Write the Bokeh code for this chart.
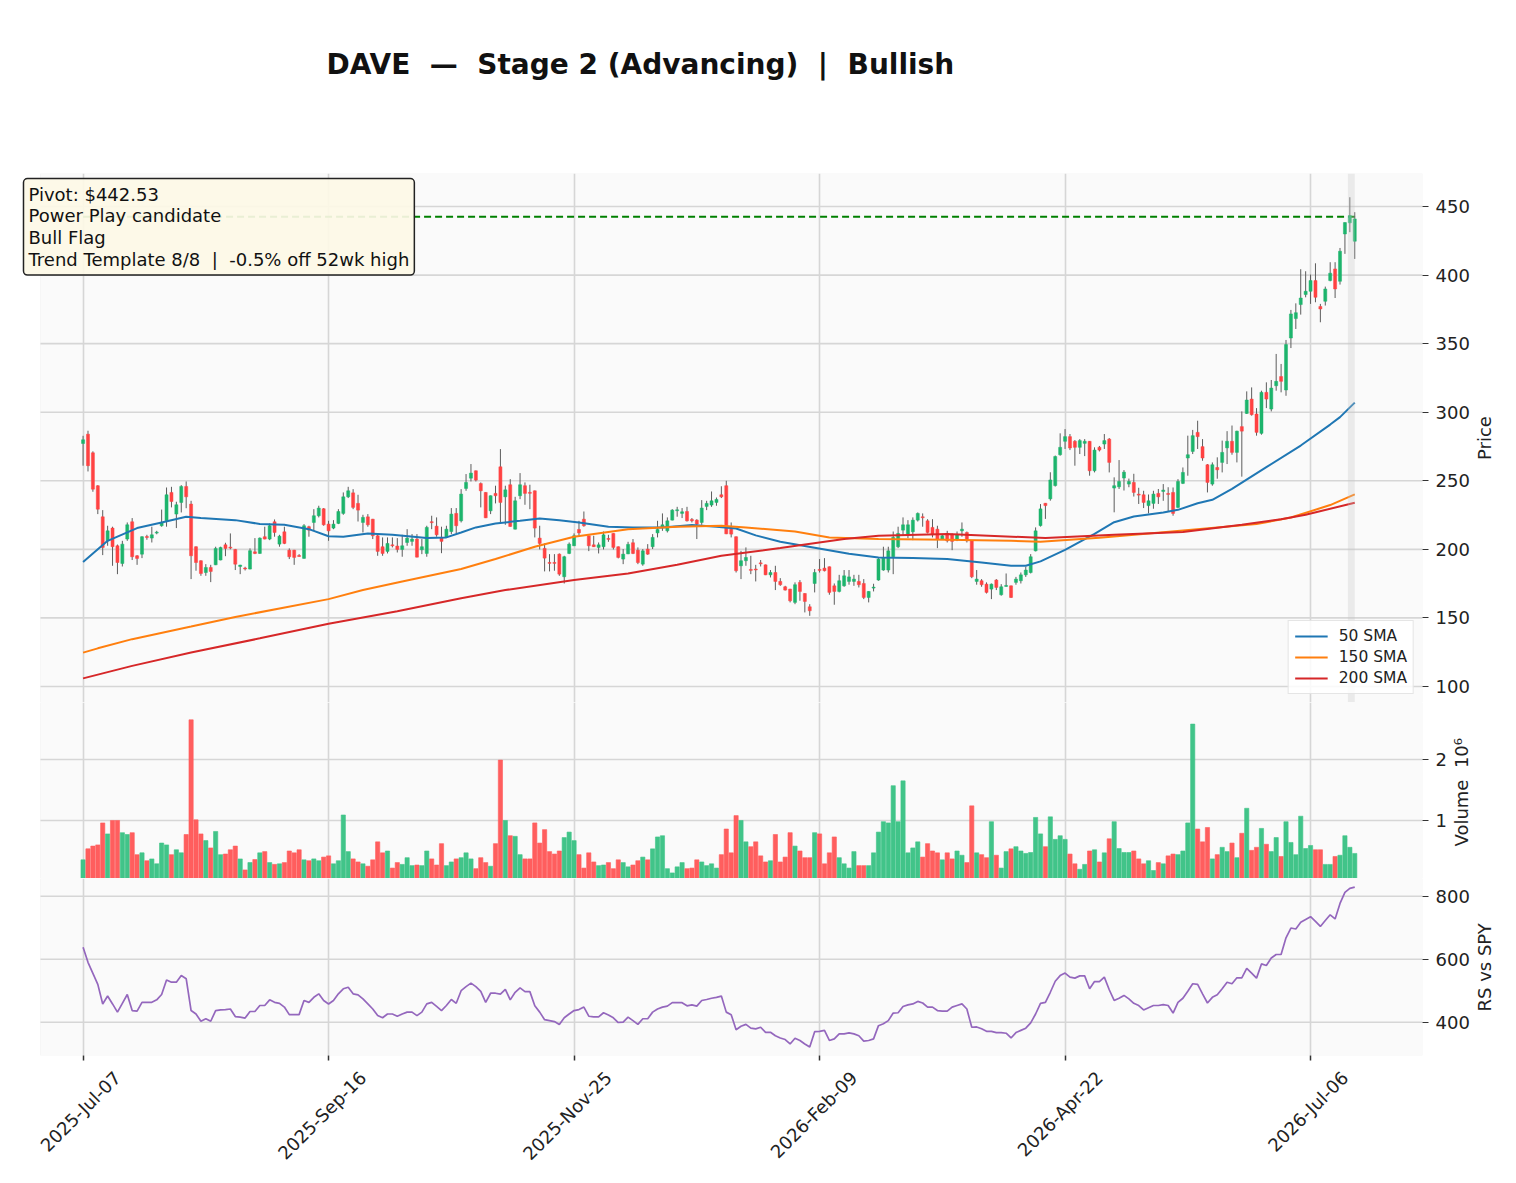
from math import pi
from bokeh.plotting import figure
from bokeh.models import (ColumnDataSource, FixedTicker, Range1d, Label, Legend, LegendItem,
                          LinearAxis, BoxAnnotation, Title)
from bokeh.layouts import column
from bokeh.embed import file_html
from bokeh.resources import INLINE

# ---------------- data ----------------
TICKER = "DAVE"
STAGE = "Stage 2 (Advancing)"
BIAS = "Bullish"
PIVOT = 442.53
NOTES = ["Power Play candidate", "Bull Flag", "Trend Template 8/8  |  -0.5% off 52wk high"]

date_ticks = [0, 50, 100, 150, 200, 250]
date_labels = ["2025-Jul-07", "2025-Sep-16", "2025-Nov-25", "2026-Feb-09", "2026-Apr-22", "2026-Jul-06"]
price_ticks = [100, 150, 200, 250, 300, 350, 400, 450]
volume_ticks = [1, 2]
rs_ticks = [400, 600, 800]

open_ = [277.2, 284.0, 270.4, 246.4, 223.7, 206.2, 215.5, 202.6, 189.7, 207.5,
         220.1, 195.3, 196.5, 209.2, 208.2, 212.0, 217.2, 220.8, 241.5, 225.7,
         234.2, 245.9, 233.0, 201.9, 191.7, 183.1, 186.8, 188.7, 192.2, 203.3,
         201.4, 199.9, 187.5, 186.2, 185.6, 198.2, 197.0, 209.2, 207.5, 220.1,
         203.8, 212.8, 199.4, 199.4, 195.3, 193.4, 216.5, 219.6, 224.5, 229.6,
         218.4, 215.5, 218.9, 226.2, 238.3, 241.2, 233.5, 219.6, 223.7, 222.0,
         209.9, 201.9, 198.5, 203.3, 202.4, 199.9, 205.0, 205.8, 207.5, 199.7,
         197.0, 220.0, 216.9, 208.7, 208.7, 213.0, 226.2, 220.8, 244.4, 251.9,
         257.3, 248.0, 241.5, 228.1, 240.8, 260.2, 238.3, 247.1, 214.7, 239.1,
         246.4, 241.4, 242.7, 208.2, 200.7, 190.2, 190.2, 196.5, 180.0, 197.0,
         202.6, 214.5, 222.0, 209.9, 203.3, 201.4, 201.9, 207.7, 211.6, 201.9,
         192.9, 196.7, 204.8, 199.4, 189.2, 200.2, 201.9, 212.0, 216.0, 213.5,
         221.3, 228.4, 226.2, 227.6, 221.8, 221.3, 219.6, 231.3, 232.3, 234.2,
         239.8, 246.4, 214.7, 209.2, 188.0, 191.7, 185.1, 185.6, 189.9, 188.7,
         181.4, 183.1, 176.6, 172.7, 171.0, 161.3, 175.9, 167.8, 158.1, 175.1,
         185.1, 186.3, 187.3, 173.4, 169.3, 173.4, 176.6, 176.6, 176.6, 175.1,
         164.9, 172.0, 177.6, 184.9, 184.9, 194.6, 201.9, 214.0, 210.6, 212.8,
         221.3, 223.5, 220.8, 216.0, 214.7, 207.5, 211.6, 210.6, 207.5, 213.5,
         212.3, 206.2, 176.6, 177.1, 174.6, 171.0, 177.6, 166.9, 173.2, 173.4,
         175.9, 177.1, 181.4, 183.1, 198.9, 217.3, 233.6, 236.8, 246.5, 269.0,
         278.8, 282.2, 278.8, 274.4, 277.3, 278.8, 257.3, 274.4, 276.8, 280.4,
         244.7, 245.6, 252.0, 247.6, 248.8, 240.0, 239.8, 231.9, 233.5, 240.8,
         242.2, 240.5, 241.5, 230.6, 248.1, 266.6, 271.4, 285.3, 274.9, 261.7,
         247.6, 259.7, 263.4, 274.0, 278.8, 270.7, 289.5, 299.1, 309.6, 298.7,
         284.6, 314.5, 302.3, 319.3, 326.0, 316.2, 354.1, 368.3, 378.5, 385.8,
         388.2, 396.0, 377.1, 380.9, 396.0, 404.5, 395.5, 430.0, 438.1, 424.7]

high = [282.8, 286.5, 271.5, 246.8, 228.6, 217.2, 216.5, 203.5, 206.2, 219.6,
        222.8, 195.8, 209.6, 210.6, 216.5, 213.5, 229.0, 245.1, 245.6, 234.7,
        246.8, 249.5, 235.4, 202.2, 192.0, 189.2, 188.7, 201.9, 201.9, 204.8,
        211.6, 200.3, 188.7, 187.3, 200.7, 208.2, 208.7, 216.5, 218.9, 221.8,
        210.6, 216.5, 200.7, 199.6, 196.5, 218.4, 217.2, 229.3, 231.8, 230.1,
        220.8, 221.3, 229.3, 241.5, 245.6, 243.9, 239.8, 225.2, 225.7, 222.2,
        211.6, 208.7, 208.7, 208.7, 208.2, 210.6, 214.7, 211.1, 211.1, 207.5,
        217.2, 224.5, 223.3, 216.5, 217.2, 230.1, 230.1, 243.9, 254.9, 262.2,
        257.5, 248.8, 241.7, 239.3, 246.4, 273.1, 246.4, 251.2, 238.3, 255.6,
        248.8, 247.1, 242.9, 217.2, 204.3, 196.5, 196.5, 197.0, 195.3, 205.0,
        211.6, 220.8, 227.6, 210.1, 209.9, 205.0, 213.0, 210.6, 211.8, 202.1,
        200.2, 205.5, 207.5, 201.4, 200.2, 203.8, 211.1, 220.8, 226.2, 223.3,
        229.3, 231.0, 230.1, 231.0, 222.8, 222.0, 235.9, 235.4, 242.2, 237.8,
        246.0, 250.0, 219.6, 209.4, 198.9, 201.4, 195.3, 188.7, 192.2, 188.9,
        184.9, 188.0, 179.0, 173.4, 171.2, 175.9, 177.6, 168.0, 160.0, 185.6,
        192.9, 193.6, 187.5, 175.1, 181.4, 184.9, 184.9, 181.4, 181.4, 178.3,
        169.5, 174.9, 193.6, 201.9, 201.9, 213.0, 216.5, 223.3, 221.3, 223.3,
        226.9, 226.2, 222.0, 222.0, 217.2, 211.1, 213.5, 211.6, 213.0, 219.6,
        213.0, 206.4, 184.9, 178.3, 175.9, 175.1, 178.3, 174.6, 182.4, 173.6,
        179.9, 183.1, 187.3, 196.5, 216.0, 233.0, 233.8, 256.2, 268.4, 284.6,
        287.7, 284.1, 279.7, 280.4, 280.4, 279.0, 274.4, 275.4, 284.1, 281.2,
        252.5, 265.1, 257.8, 251.6, 255.1, 244.9, 242.7, 240.0, 242.7, 244.0,
        247.6, 245.3, 245.1, 251.2, 259.7, 282.9, 287.1, 293.8, 280.4, 262.2,
        263.4, 267.1, 279.3, 286.2, 290.3, 286.5, 300.6, 315.2, 318.1, 303.0,
        315.7, 321.8, 323.5, 342.5, 335.2, 352.7, 374.6, 379.4, 404.3, 402.8,
        400.4, 408.6, 379.0, 391.6, 409.4, 409.4, 419.8, 438.5, 456.8, 445.9]

low = [261.0, 256.8, 242.0, 225.7, 195.8, 202.6, 188.0, 181.9, 187.5, 206.2,
       192.2, 188.7, 193.6, 207.0, 205.0, 211.0, 216.5, 216.5, 230.6, 215.5,
       226.9, 230.0, 178.3, 184.4, 180.7, 180.7, 176.1, 188.5, 192.0, 195.0,
       200.0, 184.9, 181.9, 184.6, 185.4, 196.5, 196.8, 207.3, 206.7, 209.2,
       201.9, 203.8, 192.9, 188.7, 194.6, 193.2, 209.2, 213.5, 223.3, 217.2,
       206.2, 214.7, 218.4, 225.2, 237.4, 229.3, 220.3, 212.3, 216.5, 207.5,
       195.3, 195.3, 197.0, 201.4, 197.7, 194.6, 202.6, 202.6, 194.1, 196.5,
       194.6, 214.7, 209.2, 197.2, 208.5, 211.1, 211.6, 219.6, 242.7, 249.5,
       249.5, 230.6, 222.8, 225.7, 233.5, 219.6, 217.9, 216.5, 214.5, 236.6,
       232.5, 229.3, 208.7, 199.9, 183.9, 183.9, 184.4, 180.7, 175.1, 196.5,
       202.4, 209.9, 216.5, 198.7, 201.7, 197.0, 199.9, 205.5, 199.9, 193.4,
       189.2, 196.5, 196.5, 189.2, 188.0, 196.0, 200.2, 208.7, 213.5, 212.3,
       221.1, 223.8, 222.8, 220.3, 219.6, 207.5, 217.9, 228.6, 231.0, 231.8,
       237.4, 211.1, 208.7, 183.1, 178.3, 188.0, 181.9, 176.6, 187.5, 181.2,
       179.5, 170.3, 173.4, 170.0, 161.3, 160.0, 162.5, 154.0, 151.5, 168.6,
       183.1, 183.9, 166.9, 159.6, 168.6, 172.7, 174.2, 173.4, 172.2, 163.7,
       161.3, 169.3, 177.1, 184.4, 183.1, 181.9, 200.9, 210.6, 208.2, 206.7,
       220.3, 216.5, 211.6, 208.7, 200.9, 207.0, 205.0, 199.4, 206.0, 209.2,
       205.0, 179.0, 174.2, 172.7, 167.8, 163.7, 170.3, 166.2, 172.7, 164.5,
       174.2, 175.1, 179.9, 182.4, 198.5, 216.6, 222.2, 235.5, 245.8, 268.3,
       273.2, 272.4, 261.0, 269.5, 268.0, 253.7, 256.1, 271.4, 273.2, 256.1,
       227.0, 244.0, 242.9, 245.3, 238.5, 233.1, 230.1, 226.2, 229.6, 233.1,
       235.4, 227.7, 224.5, 230.1, 247.6, 253.7, 269.5, 273.2, 264.6, 241.5,
       246.4, 251.5, 256.1, 262.2, 269.0, 263.4, 253.0, 298.7, 297.5, 282.9,
       283.6, 303.0, 300.6, 315.7, 314.5, 312.0, 346.8, 360.7, 371.2, 383.8,
       379.0, 380.2, 365.6, 377.8, 395.5, 383.3, 393.1, 415.5, 431.3, 411.8]

close = [279.9, 261.0, 243.9, 229.3, 201.4, 213.5, 201.9, 190.4, 203.8, 217.9,
         194.6, 193.4, 209.2, 208.8, 210.6, 212.4, 219.6, 239.8, 234.9, 232.5,
         245.9, 238.3, 195.3, 190.4, 182.4, 186.8, 183.9, 200.7, 201.4, 200.7,
         201.1, 189.2, 188.5, 185.9, 199.0, 197.0, 208.2, 207.5, 217.2, 212.3,
         209.6, 204.3, 194.6, 194.1, 195.0, 217.2, 214.0, 224.5, 230.1, 217.9,
         213.5, 218.4, 227.6, 238.3, 242.7, 230.6, 228.6, 223.3, 217.9, 209.9,
         198.5, 197.0, 204.3, 202.6, 199.9, 202.6, 208.2, 207.5, 194.3, 201.9,
         216.0, 219.6, 210.6, 205.8, 214.7, 225.7, 217.2, 240.3, 248.8, 255.6,
         250.5, 242.7, 223.0, 239.1, 239.1, 234.2, 243.4, 216.7, 235.4, 247.1,
         240.8, 241.0, 215.5, 204.3, 193.6, 190.0, 190.0, 181.9, 194.6, 203.8,
         209.9, 212.0, 217.2, 202.6, 201.9, 203.3, 210.6, 207.5, 201.4, 194.1,
         196.5, 203.6, 197.0, 190.4, 198.9, 196.5, 208.7, 214.5, 217.9, 220.8,
         228.6, 228.6, 227.4, 220.8, 220.8, 218.4, 230.1, 233.5, 235.4, 236.4,
         238.3, 211.3, 211.1, 184.4, 191.7, 194.1, 184.9, 185.0, 189.7, 181.4,
         183.1, 176.6, 174.2, 170.3, 162.5, 174.2, 169.3, 162.0, 155.2, 183.1,
         184.9, 184.4, 168.6, 169.3, 177.1, 180.7, 179.9, 178.3, 174.2, 164.9,
         169.3, 172.2, 192.9, 193.6, 198.9, 208.7, 211.6, 217.9, 217.9, 221.3,
         226.2, 223.3, 212.3, 210.6, 207.5, 209.9, 206.2, 205.8, 210.6, 214.7,
         206.2, 180.0, 178.3, 174.2, 168.6, 174.6, 172.2, 172.7, 173.4, 164.9,
         178.3, 181.4, 184.9, 194.6, 213.5, 229.5, 231.9, 250.6, 267.7, 274.4,
         282.2, 273.9, 274.4, 279.3, 278.8, 257.3, 272.4, 272.4, 279.3, 263.4,
         246.4, 249.5, 256.3, 249.5, 241.5, 239.8, 234.2, 235.4, 240.3, 238.3,
         243.2, 240.3, 226.2, 249.5, 256.1, 269.0, 282.9, 282.2, 266.6, 248.8,
         261.7, 258.0, 270.7, 278.8, 270.7, 286.2, 286.2, 308.9, 298.2, 285.3,
         314.5, 309.6, 317.6, 322.5, 322.5, 349.3, 371.7, 372.6, 383.3, 388.2,
         396.0, 383.8, 375.3, 389.9, 401.4, 389.9, 417.4, 438.3, 443.4, 441.0]

volume_m = [0.355, 0.535, 0.58, 0.60, 0.96, 0.78, 1.0, 1.0, 0.80, 0.77,
            0.80, 0.44, 0.47, 0.34, 0.37, 0.29, 0.63, 0.60, 0.44, 0.52,
            0.47, 0.77, 2.65, 1.01, 0.78, 0.67, 0.55, 0.82, 0.44, 0.45,
            0.52, 0.58, 0.37, 0.19, 0.31, 0.36, 0.47, 0.49, 0.31, 0.28,
            0.29, 0.31, 0.50, 0.47, 0.52, 0.355, 0.34, 0.37, 0.34, 0.40,
            0.42, 0.29, 0.34, 1.09, 0.49, 0.37, 0.32, 0.29, 0.25, 0.355,
            0.65, 0.47, 0.50, 0.22, 0.31, 0.28, 0.39, 0.26, 0.27, 0.26,
            0.50, 0.37, 0.27, 0.62, 0.26, 0.32, 0.37, 0.39, 0.47, 0.37,
            0.21, 0.39, 0.31, 0.25, 0.62, 1.99, 1.0, 0.75, 0.74, 0.44,
            0.37, 0.37, 0.96, 0.63, 0.85, 0.49, 0.45, 0.50, 0.72, 0.81,
            0.67, 0.44, 0.22, 0.47, 0.32, 0.26, 0.27, 0.31, 0.21, 0.355,
            0.31, 0.24, 0.27, 0.34, 0.40, 0.355, 0.535, 0.73, 0.75, 0.21,
            0.14, 0.24, 0.31, 0.21, 0.22, 0.355, 0.32, 0.26, 0.29, 0.22,
            0.44, 0.86, 0.47, 1.08, 1.0, 0.65, 0.57, 0.65, 0.42, 0.32,
            0.34, 0.77, 0.32, 0.40, 0.80, 0.58, 0.50, 0.39, 0.39, 0.80,
            0.78, 0.29, 0.47, 0.73, 0.39, 0.29, 0.22, 0.49, 0.26, 0.26,
            0.26, 0.47, 0.81, 0.98, 0.96, 1.57, 0.98, 1.65, 0.47, 0.55,
            0.65, 0.40, 0.62, 0.50, 0.47, 0.355, 0.47, 0.37, 0.50, 0.43,
            0.31, 1.24, 0.47, 0.44, 0.39, 0.98, 0.43, 0.22, 0.49, 0.535,
            0.57, 0.50, 0.46, 0.475, 1.05, 0.78, 0.57, 1.06, 0.69, 0.75,
            0.69, 0.45, 0.29, 0.20, 0.28, 0.50, 0.52, 0.32, 0.47, 0.70,
            0.98, 0.54, 0.475, 0.475, 0.50, 0.37, 0.29, 0.34, 0.18, 0.31,
            0.29, 0.42, 0.45, 0.44, 0.50, 0.96, 2.58, 0.86, 0.65, 0.885,
            0.37, 0.44, 0.56, 0.49, 0.63, 0.39, 0.79, 1.20, 0.51, 0.56,
            0.87, 0.61, 0.49, 0.72, 0.41, 0.98, 0.64, 0.44, 1.07, 0.54,
            0.59, 0.52, 0.52, 0.28, 0.28, 0.41, 0.43, 0.75, 0.56, 0.46]

rs_spy = [638, 590, 555, 520, 458, 483, 458, 432, 460, 488,
          437, 435, 463, 463, 463, 471, 488, 534, 527, 527,
          548, 538, 437, 426, 403, 411, 403, 437, 439, 440,
          442, 418, 416, 413, 434, 434, 453, 453, 471, 463,
          460, 448, 424, 424, 424, 469, 463, 479, 490, 469,
          458, 469, 490, 506, 511, 490, 487, 474, 458, 442,
          421, 414, 426, 426, 419, 426, 432, 432, 421, 432,
          458, 463, 450, 437, 453, 472, 460, 500, 513, 524,
          513, 498, 463, 492, 492, 489, 504, 471, 495, 509,
          497, 497, 452, 432, 408, 405, 402, 393, 414, 426,
          437, 440, 448, 419, 417, 417, 430, 423, 414, 399,
          400, 416, 405, 393, 411, 411, 432, 442, 448, 451,
          462, 462, 462, 452, 455, 451, 469, 472, 476, 479,
          483, 432, 424, 376, 387, 393, 381, 379, 384, 368,
          368, 357, 350, 345, 331, 349, 342, 331, 321, 370,
          371, 374, 342, 347, 363, 363, 366, 363, 357, 340,
          342, 347, 389, 395, 405, 429, 430, 450, 455, 458,
          466, 461, 448, 448, 437, 435, 435, 448, 453, 458,
          442, 384, 385, 379, 371, 371, 367, 367, 365, 350,
          367, 374, 381, 398, 426, 460, 463, 495, 530, 548,
          556, 543, 540, 547, 547, 506, 529, 529, 543, 503,
          469, 476, 485, 474, 460, 453, 439, 446, 453, 453,
          456, 453, 429, 463, 476, 498, 522, 520, 490, 461,
          479, 487, 506, 527, 522, 541, 541, 571, 556, 540,
          585, 580, 604, 615, 615, 668, 699, 696, 717, 726,
          735, 720, 704, 723, 741, 728, 777, 812, 825, 829]

sma50_i = [0, 5, 11, 16, 21, 24, 31, 36, 41, 46, 50, 53, 58, 63, 70, 74, 77, 80, 84, 89,
           93, 97, 101, 107, 112, 118, 124, 129, 133, 137, 142, 149, 156, 162, 169, 176, 183,
           189, 192, 195, 200, 206, 210, 214, 220, 223, 227, 230, 234, 241, 248, 254, 256, 259]
sma50_v = [190.7, 206.2, 215.5, 219.6, 223.7, 222.8, 221.3, 218.5, 217.9, 214.7, 209.5, 209.2,
           211.6, 210.6, 208.2, 208.7, 212.3, 216.0, 218.9, 220.8, 222.5, 221.3, 219.6, 216.5,
           216.0, 216.0, 217.7, 216.5, 215.2, 210.2, 205.5, 201.2, 196.8, 194.1, 193.6, 192.9,
           190.4, 188.0, 188.0, 191.2, 199.6, 211.3, 219.8, 224.0, 226.8, 228.8, 233.6, 236.1,
           244.1, 259.9, 275.7, 291.0, 296.4, 307.0]

sma150_i = [0, 3, 10, 22, 31, 50, 57, 65, 77, 84, 92, 100, 111, 121, 130, 135, 145, 152,
            162, 176, 189, 195, 207, 220, 239, 246, 254, 259]
sma150_v = [124.7, 127.8, 134.5, 143.7, 150.7, 163.7, 170.3, 176.6, 185.6, 192.9, 201.9,
            209.2, 214.7, 216.5, 217.2, 216.0, 213.0, 208.7, 207.5, 207.0, 206.2, 205.6,
            208.5, 212.5, 218.4, 223.2, 232.3, 240.1]

sma200_i = [0, 10, 22, 36, 50, 64, 77, 86, 100, 111, 121, 130, 142, 155, 162, 176, 196,
            210, 224, 236, 244, 249, 259]
sma200_v = [105.9, 115.0, 124.7, 135.1, 145.8, 154.9, 164.4, 170.3, 177.6, 182.4, 188.7,
            195.3, 200.9, 207.5, 209.9, 211.1, 208.3, 210.6, 212.7, 217.9, 221.9, 225.2, 234.0]

# ---------------- styling ----------------
FONT = "DejaVu Sans"
UP_C, DN_C = "#1db46c", "#ff4242"
UPV_C, DNV_C = "#41c489", "#ff5e5e"
WICK_C = "#5c5c5c"
GRID_C = "#d6d6d6"
BG_C = "#fafafa"
TICK_FS = "18px"
NB = "\u00a0"


def keep_spaces(s):
    # keep double spaces visible in SVG text
    return s.replace("  ", " " + NB)


n = len(close)
idx = list(range(n))
up = [c >= o for o, c in zip(open_, close)]
btop, bbot = [], []
for o, c in zip(open_, close):
    t, b = max(o, c), min(o, c)
    if t - b < 0.7:
        m = (t + b) / 2.0
        t, b = m + 0.35, m - 0.35
    btop.append(t)
    bbot.append(b)

src = ColumnDataSource(dict(
    x=idx, h=high, l=low, top=btop, bot=bbot,
    color=[UP_C if u else DN_C for u in up],
    vcolor=[UPV_C if u else DNV_C for u in up],
    vol=volume_m, rs=rs_spy))

# plot area (shaded) spans x in [X0, X1]; the frame extends a bit further left
X0, X1 = -8.68, 272.8
PX_PER_BAR = 4.9204
EXTRA_LEFT = 20
xr = Range1d(X0 - EXTRA_LEFT / PX_PER_BAR, X1)
W = 1508


def make_fig(height, yr, top, bottom, ticks):
    p = figure(width=W, height=height, x_range=xr, y_range=yr, output_backend="svg",
               toolbar_location=None, y_axis_location="right", title=None,
               min_border_left=EXTRA_LEFT, min_border_right=83, min_border_top=top,
               min_border_bottom=bottom)
    p.background_fill_color = "white"
    p.border_fill_color = "white"
    p.outline_line_color = None
    p.add_layout(BoxAnnotation(left=X0, fill_color=BG_C, fill_alpha=1.0,
                               line_color="#e4e4e4", line_width=1, level="image"))
    p.xaxis.ticker = FixedTicker(ticks=date_ticks)
    p.xgrid.grid_line_color = GRID_C
    p.xgrid.grid_line_width = 1.6
    p.ygrid.grid_line_color = None
    # horizontal grid lines limited to the shaded plot area
    p.segment(x0=[X0] * len(ticks), x1=[X1] * len(ticks), y0=ticks, y1=ticks,
              line_color=GRID_C, line_width=1.6)
    ax = p.yaxis[0]
    ax.ticker = FixedTicker(ticks=ticks)
    ax.axis_line_color = None
    ax.major_tick_out = 6
    ax.major_tick_in = 0
    ax.minor_tick_line_color = None
    ax.major_tick_line_color = "#333333"
    ax.major_label_text_font = FONT
    ax.major_label_text_font_size = TICK_FS
    ax.major_label_text_color = "#222222"
    ax.major_label_standoff = 7
    return p


def add_side_label(p, frame_h, text, text_len_px):
    """Vertical label on the right, reading bottom-to-top, centred on the panel."""
    yr = p.y_range
    span = yr.end - yr.start
    mid = (yr.start + yr.end) / 2.0
    pos = round(mid - (text_len_px / 2.0) * span / frame_h, 4)
    ax = LinearAxis(ticker=FixedTicker(ticks=[pos]), major_label_overrides={pos: text},
                    major_label_orientation=pi / 2, axis_line_color=None,
                    major_tick_line_color=None, minor_tick_line_color=None,
                    major_label_text_font=FONT, major_label_text_font_size=TICK_FS,
                    major_label_text_color="#222222", major_label_standoff=6)
    p.add_layout(ax, "right")


# ---------- header (figure title) ----------
HEADER_H = 128
title = Title(text=keep_spaces(f"{TICKER}  \u2014  {STAGE}  |  {BIAS}"), align="left",
              offset=306, standoff=90, text_font=FONT, text_font_size="28px",
              text_font_style="bold", text_color="#111111")
header = figure(width=W, height=HEADER_H, x_range=xr, output_backend="svg",
                toolbar_location=None, x_axis_location=None, y_axis_location=None,
                title=title, min_border_left=EXTRA_LEFT, min_border_right=83,
                min_border_top=0, min_border_bottom=0)
header.outline_line_color = None
header.background_fill_color = "white"
header.border_fill_color = "white"
header.grid.visible = False

# ---------- price panel ----------
pp = make_fig(173 - HEADER_H + 529, Range1d(88.3, 474.1), 173 - HEADER_H, 0, price_ticks)
pp.xaxis.visible = False
add_side_label(pp, 529, "Price", 44)

pp.add_layout(BoxAnnotation(left=n - 2.4, right=n - 1.0, fill_color="#c8c8c8",
                            fill_alpha=0.3, line_color=None))
pp.line([idx[0], idx[-1] + 0.3], [PIVOT, PIVOT], line_color="#008000", line_width=2,
        line_dash="7 4")
pp.segment(x0="x", y0="l", x1="x", y1="h", source=src, line_color=WICK_C, line_width=1)
pp.vbar(x="x", width=0.62, top="top", bottom="bot", source=src, fill_color="color",
        line_color="color", line_width=0.5)
r50 = pp.line(sma50_i, sma50_v, line_color="#1f77b4", line_width=2)
r150 = pp.line(sma150_i, sma150_v, line_color="#ff7f0e", line_width=2)
r200 = pp.line(sma200_i, sma200_v, line_color="#d62728", line_width=2)

legend = Legend(items=[LegendItem(label="50 SMA", renderers=[r50]),
                       LegendItem(label="150 SMA", renderers=[r150]),
                       LegendItem(label="200 SMA", renderers=[r200])],
                location="bottom_right", label_text_font=FONT, label_text_font_size="15.5px",
                label_text_color="#222222", glyph_width=33, glyph_height=16,
                label_standoff=11, spacing=3, padding=6, margin=8,
                border_line_color="#cccccc", background_fill_color="white",
                background_fill_alpha=0.85)
pp.add_layout(legend)

note_text = "\n".join([f"Pivot: ${PIVOT:.2f}"] + [keep_spaces(s) for s in NOTES])
pp.add_layout(Label(x=X0 - 17 / PX_PER_BAR, y=470.4, text=note_text, text_font=FONT,
                    text_font_size="18px", text_color="#111111", text_align="left",
                    text_baseline="top", text_line_height=1.04,
                    background_fill_color="#fdf8e6", background_fill_alpha=0.92,
                    border_line_color="#222222", border_line_width=1.5,
                    padding=5, border_radius=4))

# ---------- volume panel ----------
pv = make_fig(176, Range1d(0.049, 2.934), 0, 0, volume_ticks)
pv.xaxis.visible = False
add_side_label(pv, 176, keep_spaces("Volume  10\u2076"), 112)
pv.vbar(x="x", width=0.86, top="vol", bottom=0, source=src, fill_color="vcolor",
        line_color="vcolor", line_alpha=0.6, line_width=1)

# ---------- RS panel ----------
pr = make_fig(305, Range1d(294.3, 856.2), 0, 128, rs_ticks)
add_side_label(pr, 177, "RS vs SPY", 89)
pr.line("x", "rs", source=src, line_color="#9467bd", line_width=1.7)

xa = pr.xaxis[0]
xa.axis_line_color = None
xa.major_tick_out = 5
xa.major_tick_in = 0
xa.major_tick_line_color = "#333333"
xa.major_tick_line_width = 1.5
xa.minor_tick_line_color = None
xa.major_label_text_font_size = "1px"
xa.major_label_text_alpha = 0
xa.major_label_standoff = 0

shift = 7
lab_axis = LinearAxis(ticker=FixedTicker(ticks=[t + shift for t in date_ticks]),
                      major_label_overrides={t + shift: s for t, s in zip(date_ticks, date_labels)},
                      major_label_orientation=pi / 4, axis_line_color=None,
                      major_tick_line_color=None, minor_tick_line_color=None,
                      major_label_text_font=FONT, major_label_text_font_size=TICK_FS,
                      major_label_text_color="#222222", major_label_standoff=8)
pr.add_layout(lab_axis, "below")

layout = column(header, pp, pv, pr, spacing=0)
open("out.html", "w").write(file_html(layout, INLINE, title="DAVE"))
